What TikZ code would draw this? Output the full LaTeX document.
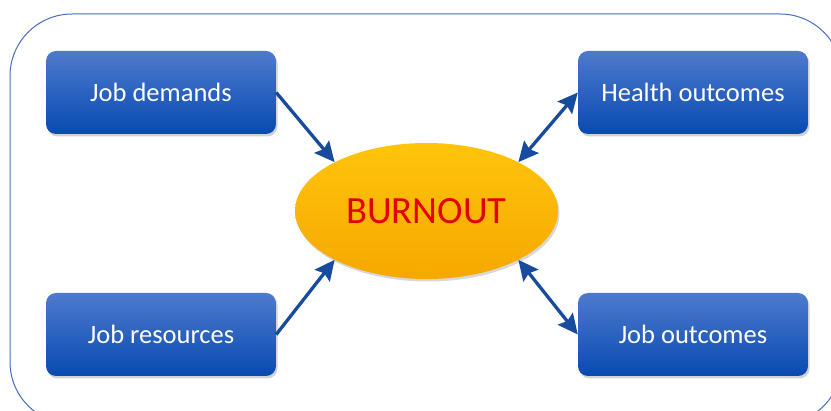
\documentclass[tikz,border=0pt]{standalone}
\usepackage{fontspec}
\setmainfont{Carlito}
\usetikzlibrary{shapes.geometric,arrows.meta,shadows}
\definecolor{frameblue}{RGB}{72,110,190}
\definecolor{boxtop}{RGB}{78,122,204}
\definecolor{boxbot}{RGB}{8,74,178}
\definecolor{arrowblue}{RGB}{22,75,158}
\definecolor{elltop}{RGB}{255,196,12}
\definecolor{ellbot}{RGB}{246,168,0}
\definecolor{burnred}{RGB}{226,0,0}
\tikzset{
  x=1pt, y=-1pt,
  bluebox/.style={rectangle, rounded corners=10pt, minimum width=230pt, minimum height=83pt,
    top color=boxtop, bottom color=boxbot, draw=none, text=white,
    font=\fontsize{26.5}{30}\selectfont,
    drop shadow={shadow xshift=1.5pt, shadow yshift=-2.5pt, opacity=0.35}},
  tip/.tip={Stealth[length=20pt,width=19pt,inset=3pt]},
  conn/.style={draw=arrowblue, line width=3.3pt, -tip},
  bconn/.style={draw=arrowblue, line width=3.3pt, tip-tip}
}
\begin{document}
\begin{tikzpicture}
\clip (0,0) rectangle (831,411);
\fill[white] (0,0) rectangle (831,411);
\draw[frameblue, line width=1pt, rounded corners=62pt] (10,14) rectangle (842,424);
\node[bluebox] (jd) at (161,92.5) {Job demands};
\node[bluebox] (ho) at (693,92.5) {Health outcomes};
\node[bluebox] (jr) at (161,334.5) {Job resources};
\node[bluebox] (jo) at (693,334.5) {Job outcomes};
\node[ellipse, minimum width=263pt, minimum height=136pt, inner sep=0pt,
  top color=elltop, bottom color=ellbot, draw=none,
  drop shadow={shadow xshift=1.5pt, shadow yshift=-2.5pt, opacity=0.3},
  text=burnred, font=\fontsize{38.5}{42}\selectfont] (bo) at (426.5,211) {BURNOUT};
\draw[conn] (jd.east) -- (bo.152);
\draw[conn] (jr.east) -- (bo.208);
\draw[bconn] (ho.west) -- (bo.28);
\draw[bconn] (jo.west) -- (bo.332);
\end{tikzpicture}
\end{document}
